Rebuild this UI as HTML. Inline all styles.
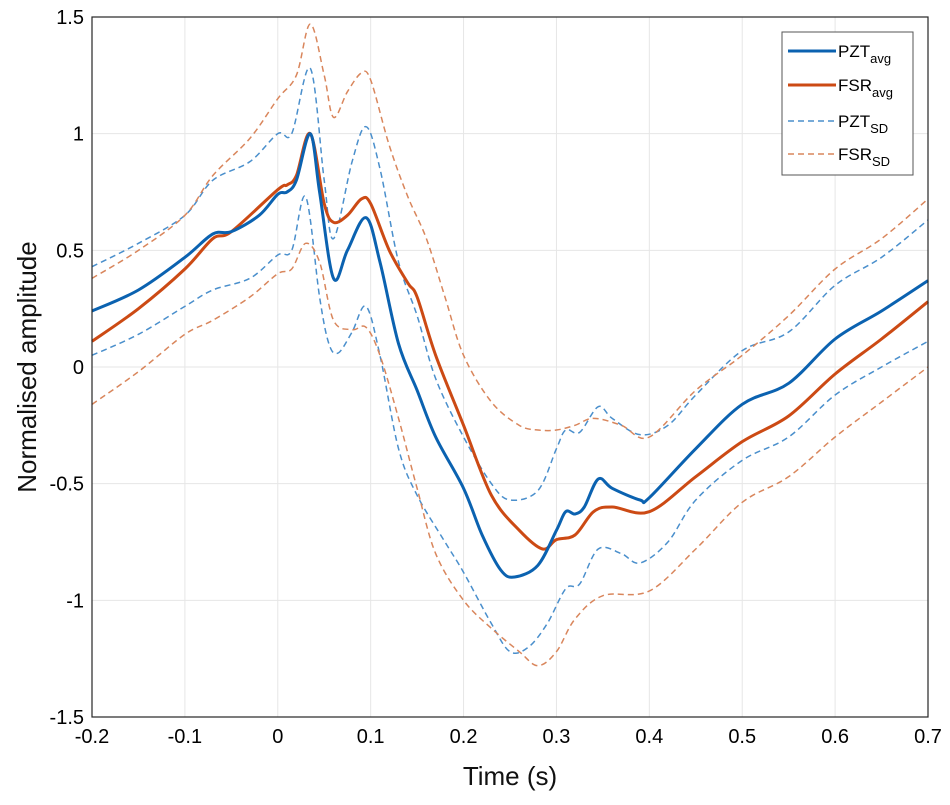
<!DOCTYPE html>
<html><head><meta charset="utf-8"><style>
body{margin:0;background:#fff;}
svg{display:block;font-family:"Liberation Sans",Arial,sans-serif;}
</style></head><body>
<svg id="chart" width="950" height="805">
<g id="grid"></g>
<g id="series"></g>
<rect x="92" y="17" width="836" height="700" fill="none" stroke="#262626" stroke-width="1.2"/>
<g id="ticks"></g>
<text x="510" y="785" font-size="26" text-anchor="middle" fill="#111">Time (s)</text>
<text transform="translate(36,367) rotate(-90)" font-size="26" text-anchor="middle" fill="#111">Normalised amplitude</text>
<g>
<rect x="782" y="32" width="131" height="143" fill="#fff" stroke="#555" stroke-width="1"/>
<g><line x1="788" y1="51" x2="836" y2="51" stroke="#0b62b0" stroke-width="3"/><text x="838" y="57" font-size="17">PZT<tspan font-size="13" dy="6">avg</tspan></text></g>
<g><line x1="788" y1="85" x2="836" y2="85" stroke="#cc4a14" stroke-width="3"/><text x="838" y="91" font-size="17">FSR<tspan font-size="13" dy="6">avg</tspan></text></g>
<g><line x1="788" y1="121" x2="836" y2="121" stroke="#4a8fcc" stroke-width="1.5" stroke-dasharray="6,4"/><text x="838" y="127" font-size="17">PZT<tspan font-size="13" dy="6">SD</tspan></text></g>
<g><line x1="788" y1="154" x2="836" y2="154" stroke="#d9865c" stroke-width="1.5" stroke-dasharray="6,4"/><text x="838" y="160" font-size="17">FSR<tspan font-size="13" dy="6">SD</tspan></text></g>
</g>
</svg>
<script>
const xTicks=[-0.2,-0.1,0,0.1,0.2,0.3,0.4,0.5,0.6,0.7];
const xTickLabels=["-0.2","-0.1","0","0.1","0.2","0.3","0.4","0.5","0.6","0.7"];
const yTicks=[-1.5,-1,-0.5,0,0.5,1,1.5];
const yTickLabels=["-1.5","-1","-0.5","0","0.5","1","1.5"];
const pztAvgT=[-0.2,-0.15,-0.1,-0.07,-0.05,-0.02,0,0.01,0.02,0.035,0.045,0.06,0.075,0.095,0.11,0.13,0.15,0.17,0.2,0.22,0.24,0.255,0.28,0.3,0.31,0.32,0.33,0.345,0.36,0.39,0.4,0.45,0.5,0.55,0.6,0.65,0.7];
const pztAvgV=[0.24,0.33,0.47,0.57,0.58,0.65,0.74,0.75,0.8,1.0,0.75,0.38,0.5,0.64,0.45,0.1,-0.1,-0.3,-0.52,-0.72,-0.87,-0.9,-0.85,-0.7,-0.62,-0.63,-0.6,-0.48,-0.52,-0.57,-0.56,-0.35,-0.16,-0.07,0.12,0.24,0.37];
const fsrAvgT=[-0.2,-0.15,-0.1,-0.07,-0.05,0,0.01,0.02,0.035,0.05,0.06,0.075,0.09,0.1,0.12,0.14,0.15,0.17,0.2,0.23,0.26,0.285,0.3,0.32,0.34,0.36,0.4,0.45,0.5,0.55,0.6,0.65,0.7];
const fsrAvgV=[0.11,0.25,0.42,0.55,0.58,0.76,0.78,0.82,1.0,0.7,0.62,0.65,0.72,0.7,0.5,0.36,0.3,0.05,-0.25,-0.55,-0.7,-0.78,-0.74,-0.72,-0.62,-0.6,-0.62,-0.47,-0.32,-0.21,-0.03,0.12,0.28];
const pztUpT=[-0.2,-0.15,-0.1,-0.07,-0.03,0,0.015,0.035,0.05,0.06,0.08,0.095,0.11,0.13,0.15,0.17,0.2,0.23,0.25,0.28,0.3,0.31,0.325,0.345,0.36,0.39,0.42,0.45,0.5,0.55,0.6,0.65,0.7];
const pztUpV=[0.43,0.53,0.65,0.8,0.88,1.0,1.0,1.28,0.8,0.55,0.88,1.03,0.85,0.45,0.22,-0.05,-0.3,-0.5,-0.57,-0.53,-0.35,-0.27,-0.28,-0.17,-0.22,-0.29,-0.25,-0.12,0.07,0.15,0.35,0.47,0.63];
const pztLoT=[-0.2,-0.15,-0.1,-0.07,-0.03,0,0.015,0.03,0.045,0.055,0.065,0.08,0.095,0.11,0.13,0.15,0.18,0.2,0.23,0.25,0.27,0.29,0.31,0.325,0.345,0.37,0.39,0.42,0.45,0.5,0.55,0.6,0.65,0.7];
const pztLoV=[0.05,0.14,0.26,0.33,0.38,0.48,0.5,0.73,0.3,0.1,0.06,0.15,0.26,0.05,-0.35,-0.55,-0.75,-0.88,-1.1,-1.22,-1.2,-1.1,-0.95,-0.93,-0.78,-0.8,-0.84,-0.75,-0.57,-0.4,-0.3,-0.12,0.0,0.11];
const fsrUpT=[-0.2,-0.15,-0.1,-0.07,-0.03,0,0.02,0.035,0.05,0.06,0.075,0.09,0.1,0.12,0.14,0.16,0.18,0.2,0.23,0.26,0.28,0.3,0.32,0.34,0.37,0.4,0.45,0.5,0.55,0.6,0.65,0.7];
const fsrUpV=[0.38,0.5,0.65,0.82,0.98,1.15,1.25,1.47,1.25,1.07,1.18,1.26,1.23,0.95,0.73,0.55,0.3,0.05,-0.15,-0.25,-0.27,-0.27,-0.25,-0.22,-0.25,-0.3,-0.1,0.05,0.22,0.42,0.55,0.72];
const fsrLoT=[-0.2,-0.15,-0.1,-0.07,-0.03,0,0.015,0.03,0.045,0.06,0.08,0.095,0.11,0.13,0.15,0.17,0.2,0.23,0.26,0.28,0.3,0.32,0.35,0.4,0.45,0.5,0.55,0.6,0.65,0.7];
const fsrLoV=[-0.16,-0.02,0.14,0.2,0.3,0.4,0.42,0.53,0.45,0.2,0.16,0.17,0.05,-0.22,-0.52,-0.8,-1.0,-1.12,-1.22,-1.28,-1.22,-1.08,-0.98,-0.96,-0.78,-0.58,-0.47,-0.3,-0.15,0.0];

const X0=92,X1=928,Y0=717,Y1=17;
const xs=t=>X0+(t+0.2)/0.9*(X1-X0);
const ys=v=>Y0-(v+1.5)/3*(Y0-Y1);
const NS="http://www.w3.org/2000/svg";
const grid=document.getElementById('grid'),ticks=document.getElementById('ticks'),ser=document.getElementById('series');
xTicks.forEach((t,i)=>{
  const l=document.createElementNS(NS,'line');
  l.setAttribute('x1',xs(t));l.setAttribute('x2',xs(t));l.setAttribute('y1',Y1);l.setAttribute('y2',Y0);
  l.setAttribute('stroke','#e6e6e6');
  
  
  grid.appendChild(l);
  const tx=document.createElementNS(NS,'text');
  tx.setAttribute('x',xs(t));tx.setAttribute('y',743);tx.setAttribute('font-size','20');tx.setAttribute('text-anchor','middle');
  tx.textContent=xTickLabels[i];
  
  
  ticks.appendChild(tx);
});
yTicks.forEach((v,i)=>{
  const l=document.createElementNS(NS,'line');
  l.setAttribute('x1',X0);l.setAttribute('x2',X1);l.setAttribute('y1',ys(v));l.setAttribute('y2',ys(v));
  l.setAttribute('stroke','#e6e6e6');
  
  
  grid.appendChild(l);
  const tx=document.createElementNS(NS,'text');
  tx.setAttribute('x',84);tx.setAttribute('y',ys(v)+7);tx.setAttribute('font-size','20');tx.setAttribute('text-anchor','end');
  tx.textContent=yTickLabels[i];
  
  
  ticks.appendChild(tx);
});
function pathD(T,V){
  const p=T.map((t,i)=>[xs(t),ys(V[i])]);
  let d='M'+p[0][0]+','+p[0][1];
  for(let i=0;i<p.length-1;i++){
    const a=p[Math.max(0,i-1)],b=p[i],c=p[i+1],e=p[Math.min(p.length-1,i+2)];
    const c1=[b[0]+(c[0]-a[0])/6,b[1]+(c[1]-a[1])/6],c2=[c[0]-(e[0]-b[0])/6,c[1]-(e[1]-b[1])/6];
    d+=' C'+c1[0]+','+c1[1]+' '+c2[0]+','+c2[1]+' '+c[0]+','+c[1];
  }
  return d;
}
function addLine(T,V,color,w,dash,name){
  const p=document.createElementNS(NS,'path');
  p.setAttribute('d',pathD(T,V));p.setAttribute('fill','none');p.setAttribute('stroke',color);p.setAttribute('stroke-width',w);
  if(dash)p.setAttribute('stroke-dasharray',dash);
  
  
  ser.appendChild(p);
}
addLine(pztUpT,pztUpV,'#4a8fcc',1.5,'6,4','pzt-sd-upper');
addLine(pztLoT,pztLoV,'#4a8fcc',1.5,'6,4','pzt-sd-lower');
addLine(fsrUpT,fsrUpV,'#d9865c',1.5,'6,4','fsr-sd-upper');
addLine(fsrLoT,fsrLoV,'#d9865c',1.5,'6,4','fsr-sd-lower');
addLine(fsrAvgT,fsrAvgV,'#cc4a14',3,null,'fsr-avg-line');
addLine(pztAvgT,pztAvgV,'#0b62b0',3,null,'pzt-avg-line');
</script>
</body></html>
